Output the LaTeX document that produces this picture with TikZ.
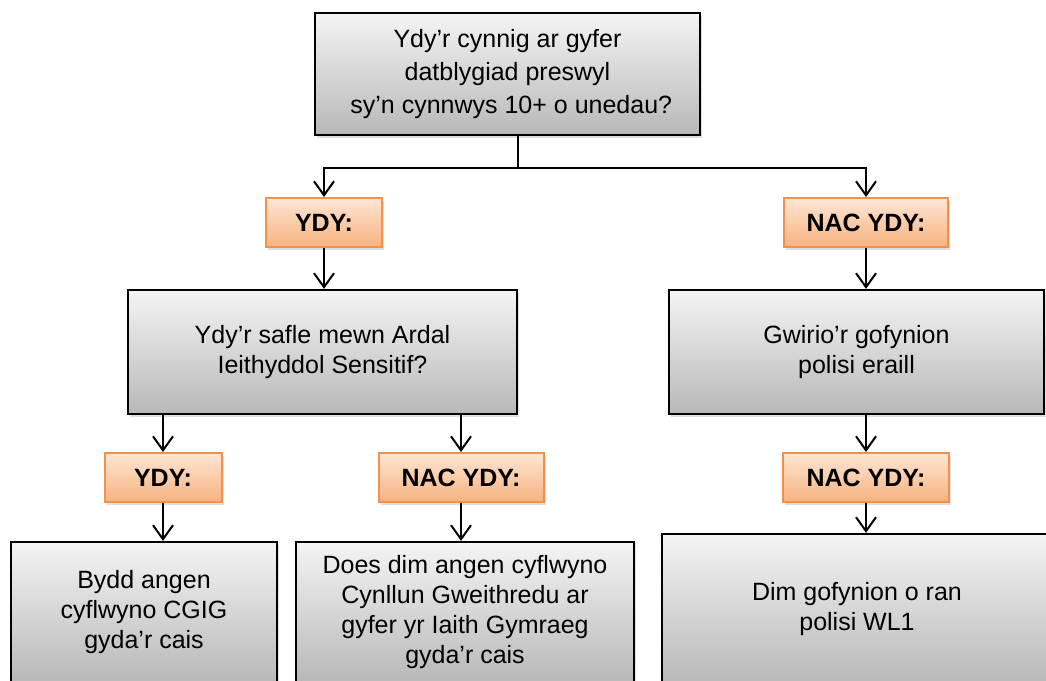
\documentclass[tikz,border=0pt]{standalone}
\usepackage{fontspec}
\setmainfont{Liberation Sans}
\usetikzlibrary{arrows.meta,shadows}
\definecolor{grayTop}{RGB}{244,244,244}
\definecolor{grayBot}{RGB}{184,184,184}
\definecolor{orBorder}{RGB}{241,146,76}
\definecolor{orTop}{RGB}{253,230,212}
\definecolor{orBot}{RGB}{247,178,126}
\begin{document}
\begin{tikzpicture}[x=1pt,y=-1pt,
  qbox/.style={draw=black, line width=2.2pt, top color=grayTop, bottom color=grayBot,
    align=center, inner sep=0pt, font=\fontsize{25}{30}\selectfont,
    drop shadow={opacity=0.25, shadow xshift=2pt, shadow yshift=-3pt}},
  abox/.style={draw=orBorder, line width=2pt, top color=orTop, bottom color=orBot,
    align=center, inner sep=0pt, font=\fontsize{25}{30}\selectfont\bfseries,
    minimum height=49pt,
    drop shadow={opacity=0.25, shadow xshift=2pt, shadow yshift=-3pt}},
  conn/.style={line width=2pt},
  arr/.style={line width=2pt, -{Straight Barb[length=14pt,width=20pt,line width=2pt]}}
]
\clip (0,0) rectangle (1046,680);
\fill[white] (0,0) rectangle (1046,680);

% top question
\node[qbox, minimum width=385pt, minimum height=122pt,
  font=\fontsize{25}{33}\selectfont] (top) at (507.5,74)
  {Ydy’r cynnig ar gyfer\\datblygiad preswyl\\\hspace*{0.3em}sy’n cynnwys 10+ o unedau?};

% first answers
\node[abox, minimum width=116pt] (ydyA) at (324,222.5) {YDY:};
\node[abox, minimum width=164pt] (nacA) at (866,222.5) {NAC YDY:};

% second level boxes
\node[qbox, minimum width=389pt, minimum height=124pt] (safle) at (322.5,352)
  {Ydy’r safle mewn Ardal\\Ieithyddol Sensitif?};
\node[qbox, minimum width=375pt, minimum height=124pt] (gwirio) at (856.5,352)
  {Gwirio’r gofynion\\polisi eraill};

% second answers
\node[abox, minimum width=117pt] (ydyB) at (163,477.5) {YDY:};
\node[abox, minimum width=165pt] (nacB) at (461,477.5) {NAC YDY:};
\node[abox, minimum width=166pt] (nacC) at (866,477.5) {NAC YDY:};

% bottom boxes
\node[qbox, minimum width=266pt, minimum height=140pt] (bydd) at (144,612)
  {Bydd angen\\cyflwyno CGIG\\gyda’r cais};
\node[qbox, minimum width=338pt, minimum height=140pt] (does) at (465,612)
  {Does dim angen cyflwyno\\Cynllun Gweithredu ar\\gyfer yr Iaith Gymraeg\\gyda’r cais};
\node[qbox, minimum width=390pt, minimum height=150pt] (dim) at (857,609)
  {Dim gofynion o ran\\polisi WL1};

% connectors
\coordinate (j) at (518,168);
\draw[conn] (top.south -| j) -- (j);
\draw[arr] (j) -| (ydyA.north);
\draw[arr] (j) -| (nacA.north);
\draw[arr] (ydyA.south) -- (ydyA.south |- safle.north);
\draw[arr] (nacA.south) -- (nacA.south |- gwirio.north);
\draw[arr] (safle.south -| ydyB.north) -- (ydyB.north);
\draw[arr] (safle.south -| nacB.north) -- (nacB.north);
\draw[arr] (gwirio.south -| nacC.north) -- (nacC.north);
\draw[arr] (ydyB.south) -- (ydyB.south |- bydd.north);
\draw[arr] (nacB.south) -- (nacB.south |- does.north);
\draw[arr] (nacC.south) -- (nacC.south |- dim.north);
\end{tikzpicture}
\end{document}
